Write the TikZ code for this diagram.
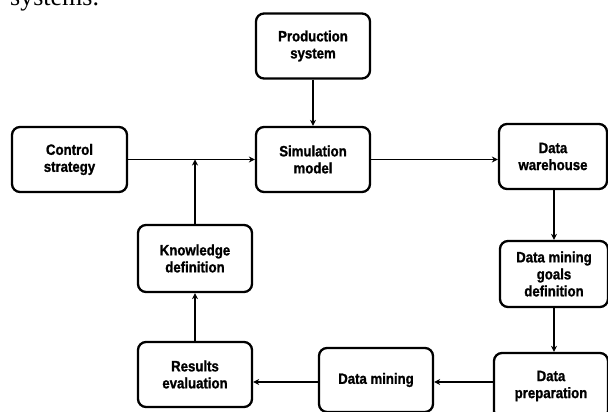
\documentclass[tikz,border=0pt]{standalone}
\usepackage{fontspec}
\setmainfont{Liberation Serif}
\newfontfamily\boxfont[FakeStretch=0.88, BoldFeatures={FakeBold=1.2}]{Liberation Sans}
\usetikzlibrary{arrows.meta,positioning,calc}

\tikzset{
  stage/.style={draw, line width=2.3pt, rounded corners=8pt, minimum width=114pt, minimum height=65pt,
    inner sep=0pt, align=center, font=\boxfont\bfseries\fontsize{15}{17}\selectfont},
  flow/.style={line width=1.8pt, -{Stealth[length=6pt,width=6pt]}}
}

\begin{document}
\begin{tikzpicture}[x=1pt,y=-1pt]

        \useasboundingbox (0,0) rectangle (608,412);
        \clip (0,0) rectangle (608,412);

        \node[anchor=base west, font=\fontsize{26}{28}\selectfont, inner sep=0pt] (caption) at (10,6) {systems.};

        \node[stage] (prod) at (313,46) {Production\\system};
        \node[stage] (sim) at (313,159.5) {Simulation\\model};
        \node[stage, minimum width=115pt] (ctrl) at (69.5,159.5) {Control\\strategy};
        \node[stage, minimum width=108pt] (ware) at (553,156.5) {Data\\warehouse};
        \node[stage, minimum width=108pt, minimum height=66pt] (goals) at (554,274) {Data mining\\goals\\definition};
        \node[stage, minimum height=66pt] (prep) at (551,386) {Data\\preparation};
        \node[stage, minimum height=64pt] (dm) at (376,380) {Data mining};
        \node[stage] (res) at (195,374.5) {Results\\evaluation};
        \node[stage, minimum height=67pt] (know) at (195,258.5) {Knowledge\\definition};

        % main line
        \draw[flow] (ctrl.east) -- (sim.west);
        \draw[flow] (prod.south) -- (sim.north);
        \draw[flow] (sim.east) -- (sim.east -| ware.west);
        \draw[flow] (goals.north |- ware.south) -- (goals.north);
        \draw[flow] (goals.south) -- (goals.south |- prep.north);

        % feedback loop
        \draw[flow] (prep.west |- 0,382) -- (dm.east |- 0,382);
        \draw[flow] (dm.west |- 0,382) -- (res.east |- 0,382);
        \draw[flow] (res.north) -- (know.south);
        \draw[flow] (know.north) -- (know.north |- ctrl.east);

\end{tikzpicture}
\end{document}
